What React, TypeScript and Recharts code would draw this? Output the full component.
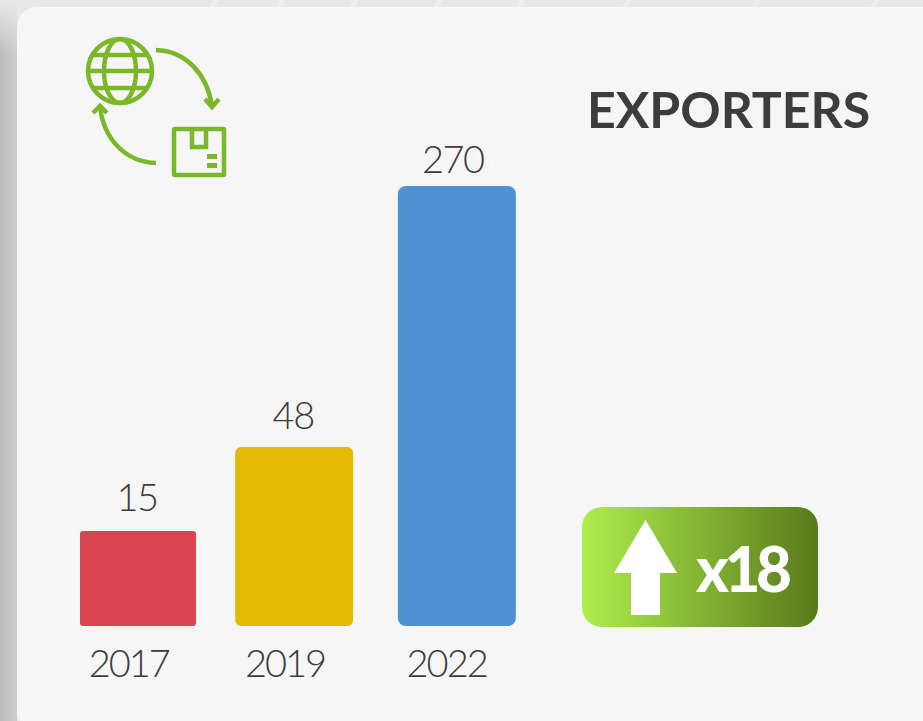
import React from "react";
import { BarChart, Bar, XAxis, YAxis, LabelList, Rectangle } from "recharts";

const years = ["2017", "2019", "2022"];
const exporters = [15, 48, 270];
const barColors = ["#DC4450", "#E6B905", "#5091D2"];
const barRadii = [3, 6, 8];
const barNudges = [0, -3.5, -0.5];
const barInsets = [1, 0, 0];
const yearNudges = [-9, -12.5, -10.5];
const valueNudgesX = [-1, -4.5, -4.5];
const valueGaps = [20, 18, 13];
const title = "EXPORTERS";
const multiplier = "x18";
const rows = years.map((year, i) => ({ year, exporters: exporters[i] }));

const FONT = "Lato, sans-serif";
const INK = "#3c3c3b";
const GREEN = "#7AB829";

const BarShape = (p: any) => (
  <Rectangle
    x={p.x + barNudges[p.index] + barInsets[p.index]}
    y={p.y}
    width={p.width - 2 * barInsets[p.index]}
    height={p.height}
    radius={barRadii[p.index]}
    fill={barColors[p.index]}
  />
);

const YearTick = (p: any) => (
  <text x={p.x + yearNudges[p.index]} y={p.y + 43} textAnchor="middle" fontFamily={FONT} fontWeight={300} fontSize={38} letterSpacing={-2} fill={INK}>
    {p.payload.value}
  </text>
);

const ValueLabel = (p: any) => (
  <text x={p.x + p.width / 2 + valueNudgesX[p.index]} y={p.y - valueGaps[p.index]} textAnchor="middle" fontFamily={FONT} fontWeight={300} fontSize={38} letterSpacing={-1.5} fill={INK}>
    {p.value}
  </text>
);

const streaks = [213, 280, 353, 437, 520, 626, 755, 874];

const Backdrop = () => (
  <svg width={923} height={721} style={{ position: "absolute", left: 0, top: 0 }}>
    <defs>
      <linearGradient id="sideH" x1="0" y1="0" x2="1" y2="0">
        <stop offset="0" stopColor="#bcbcbc" />
        <stop offset="1" stopColor="#cdcdcd" />
      </linearGradient>
      <linearGradient id="sideV" x1="0" y1="0" x2="0" y2="1">
        <stop offset="0" stopColor="#e9e9e9" stopOpacity={1} />
        <stop offset="1" stopColor="#e9e9e9" stopOpacity={0} />
      </linearGradient>
    </defs>
    <rect x={0} y={0} width={923} height={721} fill="#e8e8e8" />
    <rect x={0} y={0} width={17} height={721} fill="url(#sideH)" />
    <rect x={0} y={0} width={17} height={55} fill="url(#sideV)" />
    <g fill="#efefef">
      {streaks.map((x) => (
        <path key={x} d={`M${x - 3} 7 L${x} 0 L${x + 5} 0 L${x + 2} 7 Z`} />
      ))}
    </g>
    <rect x={17} y={7} width={930} height={724} rx={20} fill="#f6f6f6" />
    <g fill="none" stroke={GREEN} strokeWidth={4.5}>
      <circle cx={120} cy={71} r={32} />
      <ellipse cx={120} cy={71} rx={16} ry={32} />
      <line x1={89} y1={71} x2={151} y2={71} />
      <line x1={93} y1={55} x2={147} y2={55} />
      <line x1={93} y1={88} x2={147} y2={88} />
      <path d="M156 50 C186 51 207 74 212 106" />
      <path d="M205 99 L212 107 L219 99" />
      <path d="M156 163 C126 162 104 140 100 107" />
      <path d="M93 113 L100 106 L107 113" />
      <rect x={174} y={129} width={50} height={46} rx={1} />
      <path d="M192 129 V147 H206 V129" />
    </g>
    <rect x={207} y={154} width={10} height={5} fill={GREEN} />
    <rect x={207} y={163} width={10} height={5} fill={GREEN} />
    <text x={587} y={128} fontFamily={FONT} fontWeight={700} fontSize={50} fill={INK}>{title}</text>
  </svg>
);

const Badge = () => (
  <svg width={923} height={721} style={{ position: "absolute", left: 0, top: 0 }}>
    <defs>
      <linearGradient id="badge" x1="0" y1="0" x2="1" y2="0">
        <stop offset="0" stopColor="#AEEE4C" />
        <stop offset="1" stopColor="#587A1B" />
      </linearGradient>
    </defs>
    <rect x={582} y={507} width={236} height={120} rx={20} fill="url(#badge)" />
    <path d="M645.5 520 L677 573 L660 573 L660 615 L631 615 L631 573 L614 573 Z" fill="#fff" />
    <text x={696} y={592} fontFamily={FONT} fontWeight={900} fontSize={62} letterSpacing={-4.5} fill="#fff">{multiplier}</text>
  </svg>
);

export default function App() {
  return (
    <div style={{ position: "absolute", left: 0, top: 0, width: 923, height: 721, overflow: "hidden" }}>
      <Backdrop />
      <div style={{ position: "absolute", left: 0, top: 0 }}>
        <BarChart width={923} height={721} data={rows} margin={{ top: 186, right: 386, bottom: 0, left: 58 }} barSize={118}>
          <XAxis dataKey="year" axisLine={false} tickLine={false} height={95} tick={YearTick} interval={0} />
          <YAxis hide scale="sqrt" domain={[0.17, 270]} allowDataOverflow />
          <Bar dataKey="exporters" shape={BarShape} isAnimationActive={false}>
            <LabelList dataKey="exporters" content={ValueLabel} />
          </Bar>
        </BarChart>
      </div>
      <Badge />
    </div>
  );
}
